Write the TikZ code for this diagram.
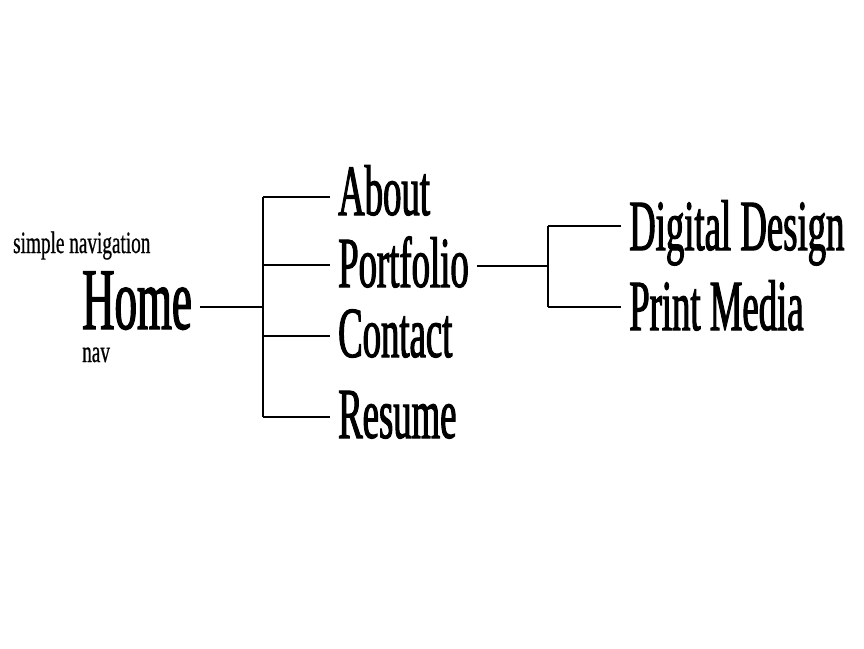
\documentclass[tikz,border=0pt]{standalone}
\usepackage{fontspec}
\setmainfont{Liberation Serif}[FakeStretch=0.51,FakeBold=1.4]
\newfontfamily\notefont{Liberation Serif}[FakeStretch=0.62,FakeBold=0.6]
\begin{document}
\begin{tikzpicture}[x=1pt,y=-1pt,
   every node/.style={inner xsep=8pt,inner ysep=0pt,anchor=base west},
   huge/.style={font=\fontsize{88}{88}\selectfont},
   big/.style={font=\fontsize{72}{72}\selectfont},
   small/.style={font=\notefont\fontsize{31}{31}\selectfont},
   link/.style={line width=1.2pt}]

\useasboundingbox (0,0) rectangle (864,648);

\node[small] (simple) at (5,253) {simple navigation};
\node[huge] (home) at (74,329) {Home};
\node[small] (nav) at (74,362) {nav};

\node[big] (about) at (330,215) {About};
\node[big] (portfolio) at (330,287) {Portfolio};
\node[big] (contact) at (330,357) {Contact};
\node[big] (resume) at (330,438) {Resume};

\node[big] (digital) at (621,250) {Digital Design};
\node[big] (print) at (621,330) {Print Media};

% home to first level
\draw[link] (home.east |- 263,307) -- (263,307);
\draw[link] (263,197) -- (263,417);
\foreach \n/\y in {about/197,portfolio/265,contact/336,resume/417}
   \draw[link] (263,\y) -- (\n.west |- 263,\y);

% portfolio to second level
\draw[link] (portfolio.east |- 548,266) -- (548,266);
\draw[link] (548,226) -- (548,307);
\foreach \n/\y in {digital/226,print/307}
   \draw[link] (548,\y) -- (\n.west |- 548,\y);

\end{tikzpicture}
\end{document}
